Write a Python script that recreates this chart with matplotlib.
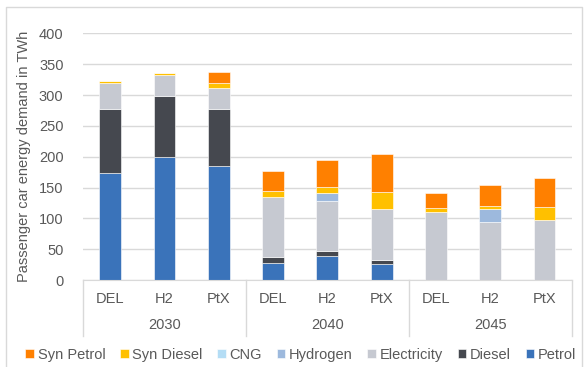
import matplotlib.pyplot as plt
from matplotlib.lines import Line2D
import numpy as np

plt.rcParams['font.family'] = ['Liberation Sans', 'DejaVu Sans']

# scenarios per year
scenarios = ['DEL', 'H2', 'PtX'] * 3
years = ['2030', '2040', '2045']

# energy demand in TWh, stacked bottom to top
petrol = [174, 200, 185, 27, 39, 26, 0, 0, 0]
diesel = [103, 98.5, 93, 10, 8.5, 7, 0, 0, 0]
electricity = [43, 34, 34, 98, 80.5, 82, 111, 93.5, 98]
hydrogen = [0, 0, 0, 0, 13.5, 0, 0, 21, 0]
cng = [0, 0, 0, 0, 0, 0, 0, 0, 0]
syn_diesel = [2, 2.5, 8, 10, 10, 27, 6, 6, 20.5]
syn_petrol = [0.5, 0.5, 18, 32, 43, 63, 24, 34, 47.5]

series = [
    ('Petrol', petrol, '#3A73BA'),
    ('Diesel', diesel, '#45484F'),
    ('Electricity', electricity, '#C6C9D1'),
    ('Hydrogen', hydrogen, '#9DB9DD'),
    ('CNG', cng, '#B4DDF5'),
    ('Syn Diesel', syn_diesel, '#FFC000'),
    ('Syn Petrol', syn_petrol, '#FF8000'),
]

txt = '#595959'
grid = '#D9D9D9'

fig = plt.figure(figsize=(5.84, 3.67), dpi=100)
ax = fig.add_axes([0.142, 0.237, 0.837, 0.672])

x = np.arange(len(scenarios))
bottom = np.zeros(len(x))
handles = {}
for name, vals, col in series:
    vals = np.array(vals, dtype=float)
    b = ax.bar(x, vals, 0.4, bottom=bottom, color=col, edgecolor='white',
               linewidth=0.4, zorder=3, label=name)
    handles[name] = b
    bottom += vals

ax.set_xlim(-0.5, 8.5)
ax.set_ylim(0, 400)
ax.set_yticks(np.arange(0, 401, 50))
ax.tick_params(axis='y', length=0, labelsize=10.5, labelcolor=txt, pad=14)
ax.set_xticks([])
ax.grid(axis='y', color=grid, linewidth=1, zorder=0)
for s in ['top', 'right', 'left']:
    ax.spines[s].set_visible(False)
ax.spines['bottom'].set_color(grid)
ax.spines['bottom'].set_zorder(4)
ax.set_ylabel('Passenger car energy demand in TWh', fontsize=10.5,
              color=txt, labelpad=6)

# two-level category axis
tr = ax.get_xaxis_transform()
for i, s in enumerate(scenarios):
    ax.text(i, -0.077, s, transform=tr, ha='center', va='center',
            fontsize=10.5, color=txt)
for j, yr in enumerate(years):
    ax.text(3 * j + 1, -0.182, yr, transform=tr, ha='center', va='center',
            fontsize=10.5, color=txt)
for xs in [-0.5, 2.5, 5.5, 8.5]:
    ax.add_line(Line2D([xs, xs], [0, -0.225], transform=tr, color=grid,
                       linewidth=1, clip_on=False))

order = ['Syn Petrol', 'Syn Diesel', 'CNG', 'Hydrogen', 'Electricity',
         'Diesel', 'Petrol']
fig.legend([handles[n] for n in order], order, loc='center',
           bbox_to_anchor=(0.515, 0.033), ncol=7, frameon=False,
           fontsize=10.5, labelcolor=txt, handlelength=0.6,
           handleheight=0.6, handletextpad=0.25, columnspacing=1.0)

# chart frame
fig.add_artist(Line2D([0.0103, 0.0103, 0.9966, 0.9966], [0, 0.981, 0.981, 0],
                      transform=fig.transFigure, color=grid, linewidth=1))

fig.savefig('out.png', dpi=100)
